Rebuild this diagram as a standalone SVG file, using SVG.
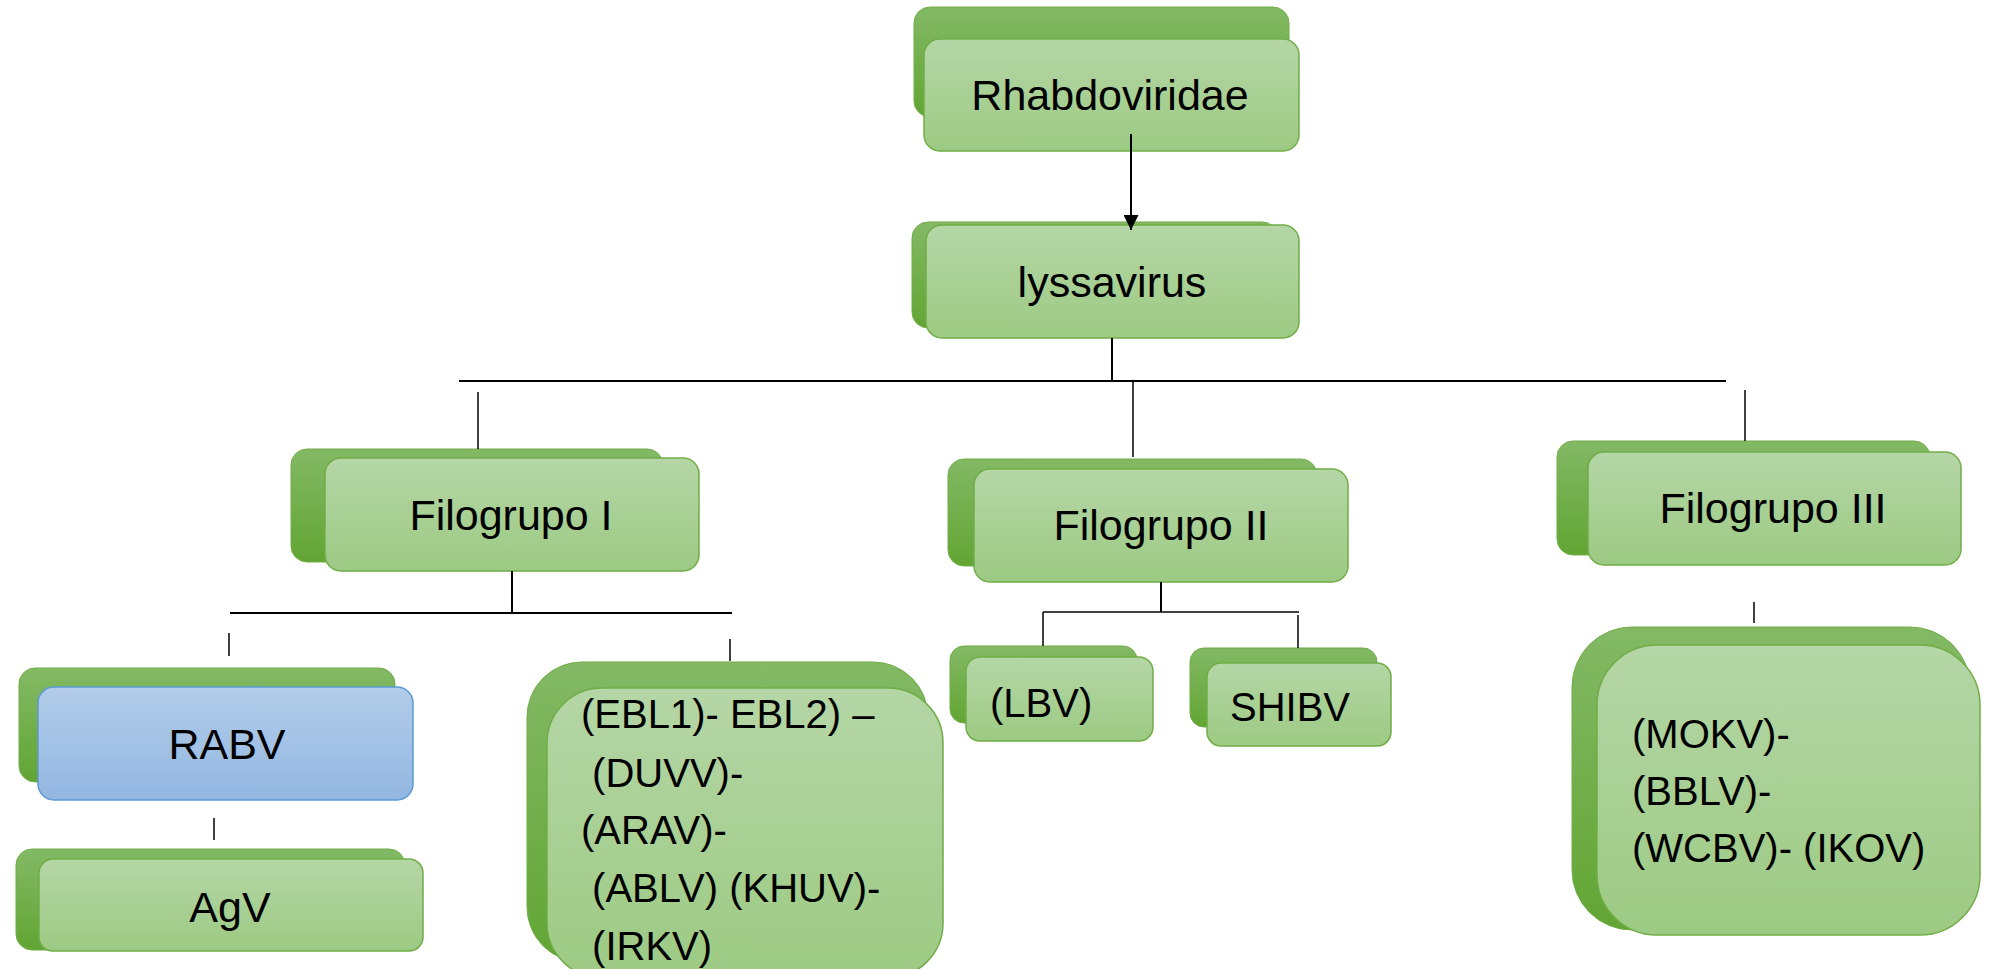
<svg xmlns="http://www.w3.org/2000/svg" width="1998" height="969" viewBox="0 0 1998 969">
<defs>
<linearGradient id="gBack" x1="0" y1="0" x2="0" y2="1"><stop offset="0" stop-color="#83b965"/><stop offset="1" stop-color="#62a533"/></linearGradient>
<linearGradient id="gFront" x1="0" y1="0" x2="0" y2="1"><stop offset="0" stop-color="#b5d6a6"/><stop offset="1" stop-color="#9cca83"/></linearGradient>
<linearGradient id="gBlue" x1="0" y1="0" x2="0" y2="1"><stop offset="0" stop-color="#b2cce9"/><stop offset="1" stop-color="#93b7e2"/></linearGradient>
<marker id="arr" viewBox="0 0 10 10" refX="10" refY="5" markerWidth="15" markerHeight="15" markerUnits="userSpaceOnUse" orient="auto"><path d="M0,0 L10,5 L0,10 z" fill="#000"/></marker>
</defs>
<style>
.back{fill:url(#gBack);stroke:#70ad47;stroke-width:1}
.front{fill:url(#gFront);stroke:#70ad47;stroke-width:1.5}
.blue{fill:url(#gBlue);stroke:#5b9bd5;stroke-width:1.5}
text{font-family:"Liberation Sans",Arial,sans-serif;fill:#000}
.t{font-size:43px;text-anchor:middle}
.s{font-size:40px}
.ln{stroke:#000;stroke-width:2;fill:none}
.tk{stroke:#000;stroke-width:1.5;fill:none}
</style>
<g id="rhabdoviridae">
<rect class="back" x="914" y="7" width="375" height="110" rx="16"/>
<rect class="front" x="924" y="39" width="375" height="112" rx="16"/>
<text class="t" x="1110" y="110">Rhabdoviridae</text>
</g>
<g id="lyssavirus">
<rect class="back" x="912" y="222" width="366" height="106" rx="16"/>
<rect class="front" x="926" y="225" width="373" height="113" rx="16"/>
<text class="t" x="1112" y="297">lyssavirus</text>
</g>
<g id="filogrupo1">
<rect class="back" x="291" y="449" width="372" height="113" rx="16"/>
<rect class="front" x="325" y="458" width="374" height="113" rx="16"/>
<text class="t" x="511" y="530">Filogrupo I</text>
</g>
<g id="filogrupo2">
<rect class="back" x="948" y="459" width="369" height="107" rx="16"/>
<rect class="front" x="974" y="469" width="374" height="113" rx="16"/>
<text class="t" x="1161" y="540">Filogrupo II</text>
</g>
<g id="filogrupo3">
<rect class="back" x="1557" y="441" width="373" height="114" rx="16"/>
<rect class="front" x="1588" y="452" width="373" height="113" rx="16"/>
<text class="t" x="1773" y="523">Filogrupo III</text>
</g>
<g id="rabv">
<rect class="back" x="19" y="668" width="376" height="114" rx="16"/>
<rect class="blue" x="38" y="687" width="375" height="113" rx="16"/>
<text class="t" x="227" y="759">RABV</text>
</g>
<g id="agv">
<rect class="back" x="16" y="849" width="389" height="101" rx="16"/>
<rect class="front" x="39" y="859" width="384" height="92" rx="14"/>
<text class="t" x="230" y="922">AgV</text>
</g>
<g id="ebl">
<rect class="back" x="527" y="662" width="401" height="300" rx="55"/>
<rect class="front" x="547" y="688" width="396" height="290" rx="55"/>
<text class="s" xml:space="preserve"><tspan x="581" y="728">(EBL1)- EBL2) –</tspan><tspan x="581" y="787"> (DUVV)-</tspan><tspan x="581" y="844">(ARAV)-</tspan><tspan x="581" y="902"> (ABLV) (KHUV)-</tspan><tspan x="581" y="960"> (IRKV)</tspan></text>
</g>
<g id="lbv">
<rect class="back" x="950" y="646" width="187" height="77" rx="14"/>
<rect class="front" x="966" y="657" width="187" height="84" rx="14"/>
<text class="s" x="990" y="717">(LBV)</text>
</g>
<g id="shibv">
<rect class="back" x="1190" y="648" width="187" height="79" rx="14"/>
<rect class="front" x="1207" y="663" width="184" height="83" rx="14"/>
<text class="s" x="1230" y="721">SHIBV</text>
</g>
<g id="mokv">
<rect class="back" x="1572" y="627" width="398" height="303" rx="60"/>
<rect class="front" x="1597" y="645" width="383" height="290" rx="60"/>
<text class="s"><tspan x="1632" y="748">(MOKV)-</tspan><tspan x="1632" y="805">(BBLV)-</tspan><tspan x="1632" y="862">(WCBV)- (IKOV)</tspan></text>
</g>
<g id="connectors">
<line class="ln" x1="1131" y1="134" x2="1131" y2="230" marker-end="url(#arr)"/>
<line class="ln" x1="1112" y1="338" x2="1112" y2="381"/>
<line class="ln" x1="459" y1="381" x2="1726" y2="381"/>
<line class="tk" x1="478" y1="392" x2="478" y2="449"/>
<line class="tk" x1="1133" y1="381" x2="1133" y2="457"/>
<line class="tk" x1="1745" y1="390" x2="1745" y2="441"/>
<line class="ln" x1="512" y1="571" x2="512" y2="613"/>
<line class="ln" x1="230" y1="613" x2="732" y2="613"/>
<line class="tk" x1="229" y1="633" x2="229" y2="656"/>
<line class="tk" x1="730" y1="639" x2="730" y2="661"/>
<line class="tk" x1="214" y1="818" x2="214" y2="840"/>
<line class="ln" x1="1161" y1="582" x2="1161" y2="612"/>
<line class="tk" x1="1043" y1="612" x2="1299" y2="612"/>
<line class="tk" x1="1043" y1="612" x2="1043" y2="646"/>
<line class="tk" x1="1298" y1="615" x2="1298" y2="648"/>
<line class="tk" x1="1754" y1="602" x2="1754" y2="623"/>
</g>
</svg>
